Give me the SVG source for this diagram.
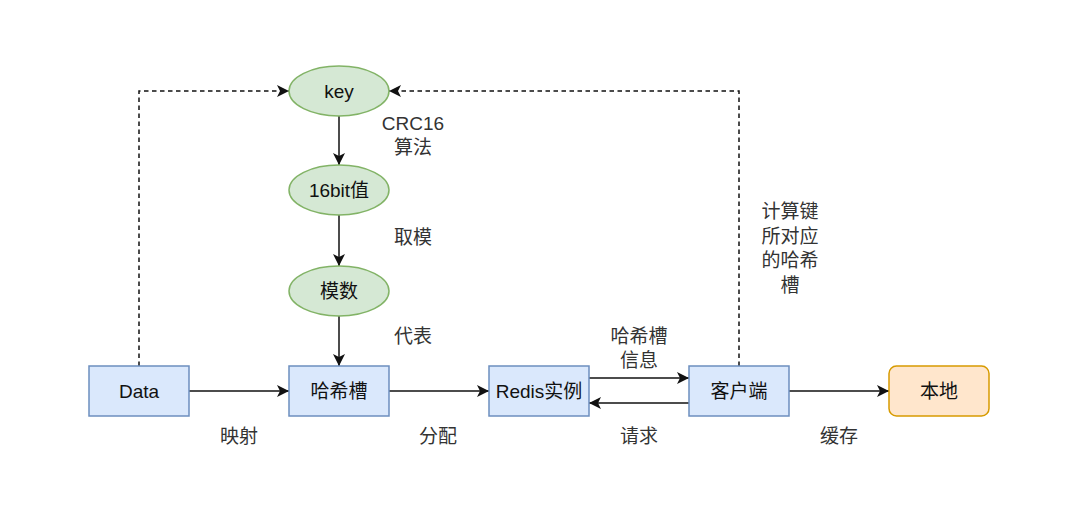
<svg xmlns="http://www.w3.org/2000/svg" width="1079" height="508" viewBox="0 0 1079 508">
<defs>
<style>
.box{fill:#dae8fc;stroke:#6c8ebf;stroke-width:1.5}
.ell{fill:#d5e8d4;stroke:#82b366;stroke-width:1.5}
.loc{fill:#ffe6cc;stroke:#d79b00;stroke-width:1.5}
.t{font-family:"Liberation Sans","Noto Sans CJK SC",sans-serif;font-size:19px;fill:#111;text-anchor:middle;dominant-baseline:central}
.l{font-family:"Liberation Sans","Noto Sans CJK SC",sans-serif;font-size:19px;fill:#333;text-anchor:middle;dominant-baseline:central}
.e{fill:none;stroke:#111;stroke-width:1.5}
.d{fill:none;stroke:#111;stroke-width:1.5;stroke-dasharray:4.5 3.5}
</style>
<marker id="arr" markerUnits="userSpaceOnUse" markerWidth="14" markerHeight="12" refX="12" refY="6" orient="auto">
<path d="M0,0 L12,6 L0,12 L3,6 Z" fill="#111"/>
</marker>
</defs>
<rect width="1079" height="508" fill="#fff"/>
<g id="connectors">
<path class="e" d="M339,116 L339,165" marker-end="url(#arr)"/>
<path class="e" d="M339,215 L339,266" marker-end="url(#arr)"/>
<path class="e" d="M339,316 L339,366" marker-end="url(#arr)"/>
<path class="e" d="M189,391 L289,391" marker-end="url(#arr)"/>
<path class="e" d="M389,391 L489,391" marker-end="url(#arr)"/>
<path class="e" d="M589,378 L689,378" marker-end="url(#arr)"/>
<path class="e" d="M689,403 L589,403" marker-end="url(#arr)"/>
<path class="e" d="M789,391 L889,391" marker-end="url(#arr)"/>
<path class="d" d="M139,366 L139,91 L289,91" marker-end="url(#arr)"/>
<path class="d" d="M739,366 L739,91 L389,91" marker-end="url(#arr)"/>
<text class="l" x="413" y="123">CRC16</text>
<text class="l" x="413" y="147">算法</text>
<text class="l" x="413" y="237">取模</text>
<text class="l" x="413" y="336">代表</text>
<text class="l" x="239" y="436">映射</text>
<text class="l" x="438" y="436">分配</text>
<text class="l" x="639" y="336">哈希槽</text>
<text class="l" x="639" y="360">信息</text>
<text class="l" x="639" y="436">请求</text>
<text class="l" x="839" y="436">缓存</text>
<text class="l" x="790" y="211">计算键</text>
<text class="l" x="790" y="236">所对应</text>
<text class="l" x="790" y="260">的哈希</text>
<text class="l" x="790" y="285">槽</text>
</g>
<g id="key"><ellipse class="ell" cx="339" cy="91" rx="50" ry="25"/><text class="t" x="339" y="91">key</text></g>
<g id="bit16"><ellipse class="ell" cx="339" cy="190" rx="50" ry="25"/><text class="t" x="339" y="190">16bit值</text></g>
<g id="mod"><ellipse class="ell" cx="339" cy="291" rx="50" ry="25"/><text class="t" x="339" y="291">模数</text></g>
<g id="data"><rect class="box" x="89" y="366" width="100" height="50"/><text class="t" x="139" y="391">Data</text></g>
<g id="slot"><rect class="box" x="289" y="366" width="100" height="50"/><text class="t" x="339" y="391">哈希槽</text></g>
<g id="redis"><rect class="box" x="489" y="366" width="100" height="50"/><text class="t" x="539" y="391">Redis实例</text></g>
<g id="client"><rect class="box" x="689" y="366" width="100" height="50"/><text class="t" x="739" y="391">客户端</text></g>
<g id="local"><rect class="loc" x="889" y="366" width="100" height="50" rx="7.5"/><text class="t" x="939" y="391">本地</text></g>
</svg>
